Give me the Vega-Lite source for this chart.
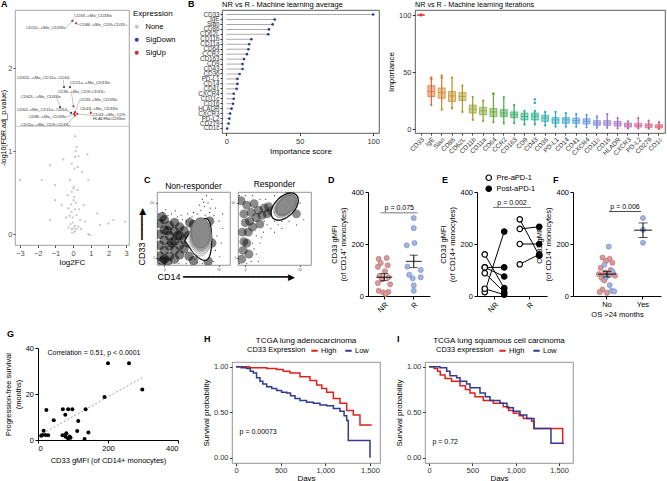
{
"$schema":"https://vega.github.io/schema/vega-lite/v6.json",
"autosize":"none",
"padding":{"left":15,"top":10,"right":652,"bottom":471},
"background":"white",
"config":{
 "font":"Liberation Sans",
 "view":{"stroke":null},
 "axis":{"grid":false,"labelFontSize":7.5,"titleFontSize":8,"titleFontWeight":"normal","tickSize":3,"labelPadding":1.5,"titlePadding":3,"domainColor":"#000","tickColor":"#000","labelColor":"#000","titleColor":"#000","labelFont":"Liberation Sans","titleFont":"Liberation Sans"},
 "title":{"fontSize":9,"fontWeight":"bold","anchor":"start","frame":"group","baseline":"bottom","color":"#000","font":"Liberation Sans"},
 "legend":{"labelFontSize":7.5,"titleFontSize":8,"titleFontWeight":"normal","labelFont":"Liberation Sans","titleFont":"Liberation Sans"}
},
"datasets":{
"volc":[
{"x":0.11,"y":1.18,"e":"None"},{"x":0.21,"y":1.05,"e":"None"},{"x":0.81,"y":0.96,"e":"None"},{"x":0.11,"y":0.93,"e":"None"},{"x":0.3,"y":0.94,"e":"None"},{"x":-1.3,"y":0.83,"e":"None"},{"x":-0.07,"y":0.85,"e":"None"},{"x":0.07,"y":0.79,"e":"None"},{"x":0.26,"y":0.81,"e":"None"},{"x":-3.0,"y":0.65,"e":"None"},{"x":-1.77,"y":0.65,"e":"None"},{"x":-0.17,"y":0.65,"e":"None"},{"x":0.86,"y":0.65,"e":"None"},{"x":0.02,"y":0.55,"e":"None"},{"x":-1.02,"y":0.59,"e":"None"},{"x":0.04,"y":0.57,"e":"None"},{"x":0.25,"y":0.53,"e":"None"},{"x":-0.08,"y":0.51,"e":"None"},{"x":-1.02,"y":0.41,"e":"None"},{"x":0.03,"y":0.41,"e":"None"},{"x":-0.64,"y":0.35,"e":"None"},{"x":-0.26,"y":0.31,"e":"None"},{"x":-0.08,"y":0.27,"e":"None"},{"x":0.11,"y":0.3,"e":"None"},{"x":1.37,"y":0.25,"e":"None"},{"x":-1.3,"y":0.17,"e":"None"},{"x":-0.2,"y":0.22,"e":"None"},{"x":-0.03,"y":0.2,"e":"None"},{"x":0.2,"y":0.23,"e":"None"},{"x":0.4,"y":0.17,"e":"None"},{"x":0.68,"y":0.15,"e":"None"},{"x":2.28,"y":0.17,"e":"None"},{"x":2.94,"y":0.15,"e":"None"},{"x":2.0,"y":0.13,"e":"None"},{"x":1.53,"y":0.11,"e":"None"},{"x":-0.26,"y":0.08,"e":"None"},{"x":-0.08,"y":0.06,"e":"None"},{"x":0.03,"y":0.07,"e":"None"},{"x":0.18,"y":0.06,"e":"None"},{"x":0.45,"y":0.06,"e":"None"},{"x":0.86,"y":0.0,"e":"None"},{"x":0.95,"y":-0.01,"e":"None"},{"x":-0.15,"y":0.12,"e":"None"},{"x":0.0,"y":0.14,"e":"None"},{"x":0.1,"y":0.1,"e":"None"},{"x":-0.1,"y":0.36,"e":"None"},{"x":0.05,"y":0.45,"e":"None"},{"x":0.15,"y":0.38,"e":"None"},{"x":-0.3,"y":0.47,"e":"None"},{"x":0.35,"y":0.3,"e":"None"},{"x":-0.05,"y":0.02,"e":"None"},{"x":0.1,"y":0.03,"e":"None"},{"x":0.3,"y":0.09,"e":"None"},{"x":-0.4,"y":0.2,"e":"None"},{"x":0.6,"y":0.35,"e":"None"},{"x":0.5,"y":0.75,"e":"None"},{"x":-0.55,"y":0.9,"e":"None"},{"x":0.15,"y":1.0,"e":"None"},
{"x":-0.04,"y":2.57,"e":"SigDown"},{"x":-0.51,"y":1.77,"e":"SigDown"},{"x":-0.17,"y":1.77,"e":"SigDown"},{"x":-0.73,"y":1.53,"e":"SigDown"},{"x":-0.11,"y":1.46,"e":"SigDown"},
{"x":0.17,"y":2.54,"e":"SigUp"},{"x":0.02,"y":1.54,"e":"SigUp"},{"x":0.11,"y":1.47,"e":"SigUp"},{"x":1.0,"y":1.46,"e":"SigUp"},{"x":0.06,"y":1.45,"e":"SigUp"},{"x":0.24,"y":1.45,"e":"SigUp"},{"x":0.11,"y":1.43,"e":"SigUp"}
],
"volcLab":[
{"lab":"CD33--cMo_CD33lo","tx":0.06,"ty":2.63,"ex":0.06,"ey":2.61,"px":-0.02,"py":2.58},
{"lab":"CD11c--cMo_CD33lo","tx":-2.66,"ty":2.48,"ex":-0.36,"ey":2.49,"px":-0.05,"py":2.57},
{"lab":"CD86--cMo_CD9+CD33+","tx":0.36,"ty":2.52,"ex":0.36,"ey":2.52,"px":0.17,"py":2.54},
{"lab":"CD62L--cMo_CD11a--CD64-","tx":-3.18,"ty":1.88,"ex":-0.55,"ey":1.86,"px":-0.51,"py":1.77},
{"lab":"CD11a--cMo_CD33lo","tx":-0.17,"ty":1.82,"ex":-0.17,"ey":1.8,"px":-0.17,"py":1.77},
{"lab":"CD36--cMo_CD9+CD33+","tx":-0.88,"ty":1.71,"ex":-0.08,"ey":1.69,"px":0.02,"py":1.54},
{"lab":"CD62L--cMo_CD33lo","tx":-2.96,"ty":1.65,"ex":-0.92,"ey":1.64,"px":-0.73,"py":1.53},
{"lab":"CD33--cMo_CD33hi","tx":0.36,"ty":1.62,"ex":0.36,"ey":1.61,"px":0.11,"py":1.47},
{"lab":"CD64--cMo_CD11a--CD64-","tx":-3.18,"ty":1.5,"ex":-0.36,"ey":1.49,"px":-0.11,"py":1.46},
{"lab":"CD43--cMo_CD33lo","tx":0.4,"ty":1.51,"ex":1.0,"ey":1.5,"px":1.0,"py":1.46},
{"lab":"CD86--cMo_CD33hi","tx":-2.52,"ty":1.41,"ex":-0.36,"ey":1.41,"px":0.06,"py":1.45},
{"lab":"CD43--cMo_CD9-","tx":1.11,"ty":1.43,"ex":1.11,"ey":1.43,"px":0.24,"py":1.45},
{"lab":"HLADRloCD33int","tx":1.11,"ty":1.39},
{"lab":"CD11a--cMo_CD9+CD33+","tx":-2.96,"ty":1.31,"ex":-0.36,"ey":1.32,"px":0.11,"py":1.43}
],
"lolli":[
{"m":"CD33","v":100},{"m":"IgE","v":33},{"m":"Slan","v":31.5},{"m":"CD86","v":29},{"m":"CD62L","v":28.5},{"m":"CD11b","v":17},{"m":"CD11a","v":15.5},{"m":"CD64","v":15},{"m":"CCR2","v":14},{"m":"CD163","v":12},{"m":"CD9","v":11},{"m":"CD43","v":11},{"m":"CD36","v":9},{"m":"PD-L1","v":7.5},{"m":"CD14","v":7.5},{"m":"CD41","v":7},{"m":"CXCR4","v":5},{"m":"CD11c","v":5},{"m":"CD16","v":4.5},{"m":"HLADR","v":3.5},{"m":"CXCR3","v":2.5},{"m":"PD-L2","v":2},{"m":"CD279","v":1.5},{"m":"CD1c","v":0.5}
],
"box":[
{"m":"CD33","lo":99.5,"q1":99.7,"med":100,"q3":100.3,"hi":100.5},
{"m":"IgE","lo":21,"q1":28.5,"med":33,"q3":38,"hi":45},
{"m":"Slan","lo":17,"q1":27,"med":32,"q3":36,"hi":47},
{"m":"CD86","lo":18,"q1":24,"med":29,"q3":33,"hi":45},
{"m":"CD62L","lo":15,"q1":25,"med":28.5,"q3":32,"hi":38},
{"m":"CD11b","lo":8,"q1":14,"med":17.5,"q3":21,"hi":28},
{"m":"CD11a","lo":7,"q1":12.5,"med":16,"q3":19,"hi":25},
{"m":"CD64","lo":6,"q1":11,"med":15,"q3":18,"hi":31},
{"m":"CCR2","lo":5,"q1":11,"med":14,"q3":17,"hi":28},
{"m":"CD163","lo":5,"q1":10,"med":12.5,"q3":15,"hi":21},
{"m":"CD9","lo":4,"q1":8,"med":11,"q3":14,"hi":16},
{"m":"CD43","lo":4,"q1":8,"med":11.4,"q3":14,"hi":16},
{"m":"CD36","lo":3,"q1":6.7,"med":9.6,"q3":12,"hi":15},
{"m":"PD-L1","lo":2,"q1":5,"med":8,"q3":10,"hi":15},
{"m":"CD14","lo":2,"q1":5,"med":8,"q3":10,"hi":14},
{"m":"CD41","lo":2,"q1":5,"med":7.5,"q3":9.5,"hi":13},
{"m":"CXCR4","lo":1.5,"q1":4.4,"med":6.7,"q3":9,"hi":12.5},
{"m":"CD11c","lo":1,"q1":3.2,"med":5.2,"q3":7.3,"hi":11},
{"m":"CD16","lo":1,"q1":3.2,"med":5.2,"q3":7.3,"hi":13},
{"m":"HLADR","lo":0.5,"q1":2.6,"med":4.7,"q3":6.7,"hi":9.6},
{"m":"CXCR3","lo":0.5,"q1":1.7,"med":3.5,"q3":5.2,"hi":6.7},
{"m":"PD-L2","lo":0.5,"q1":1.7,"med":3.2,"q3":5,"hi":9.6},
{"m":"CD279","lo":0.3,"q1":1.2,"med":2.9,"q3":4.5,"hi":7.3},
{"m":"CD1c","lo":0,"q1":0.9,"med":2.3,"q3":3.8,"hi":6}
],
"boxOut":[{"m":"CD43","val":26},{"m":"CD43","val":23},{"m":"IgE","val":44},{"m":"Slan","val":45},{"m":"CD64","val":31}],
"c1d":[{"x":0.04,"y":0.12},{"x":0.04,"y":0.27},{"x":0.04,"y":0.42},{"x":0.04,"y":0.57},{"x":0.1,"y":0.08},{"x":0.1,"y":0.2},{"x":0.1,"y":0.34},{"x":0.1,"y":0.48},{"x":0.1,"y":0.62},{"x":0.17,"y":0.12},{"x":0.17,"y":0.26},{"x":0.17,"y":0.4},{"x":0.17,"y":0.54},{"x":0.24,"y":0.08},{"x":0.24,"y":0.2},{"x":0.24,"y":0.33},{"x":0.24,"y":0.46},{"x":0.24,"y":0.58},{"x":0.31,"y":0.14},{"x":0.31,"y":0.27},{"x":0.31,"y":0.4},{"x":0.31,"y":0.52},{"x":0.37,"y":0.22},{"x":0.37,"y":0.35},{"x":0.37,"y":0.47},{"x":0.43,"y":0.3},{"x":0.43,"y":0.4},{"x":0.44,"y":0.12},{"x":0.5,"y":0.06},{"x":0.5,"y":0.55},{"x":0.45,"y":0.58},{"x":0.7,"y":0.05},{"x":0.75,"y":0.3},{"x":0.72,"y":0.6},{"x":0.07,"y":0.05},{"x":0.14,"y":0.05},{"x":0.2,"y":0.3},{"x":0.28,"y":0.4},{"x":0.14,"y":0.47},{"x":0.07,"y":0.66}],
"c1s":[{"x":0.02,"y":0.7},{"x":0.08,"y":0.72},{"x":0.15,"y":0.68},{"x":0.2,"y":0.7},{"x":0.28,"y":0.66},{"x":0.35,"y":0.62},{"x":0.4,"y":0.6},{"x":0.55,"y":0.7},{"x":0.6,"y":0.75},{"x":0.65,"y":0.8},{"x":0.7,"y":0.85},{"x":0.62,"y":0.9},{"x":0.72,"y":0.72},{"x":0.78,"y":0.68},{"x":0.75,"y":0.9},{"x":0.58,"y":0.82},{"x":0.68,"y":0.95},{"x":0.8,"y":0.78},{"x":0.85,"y":0.6},{"x":0.82,"y":0.4},{"x":0.8,"y":0.2},{"x":0.78,"y":0.05},{"x":0.62,"y":0.02},{"x":0.55,"y":0.03},{"x":0.4,"y":0.02},{"x":0.3,"y":0.02},{"x":0.2,"y":0.02},{"x":0.03,"y":0.02},{"x":0.45,"y":0.65},{"x":0.5,"y":0.72},{"x":0.66,"y":0.68},{"x":0.88,"y":0.3},{"x":0.9,"y":0.5},{"x":0.7,"y":0.62},{"x":0.52,"y":0.6},{"x":0.33,"y":0.68},{"x":0.12,"y":0.76},{"x":0.25,"y":0.74},{"x":0.42,"y":0.7},{"x":0.48,"y":0.66},{"x":0.56,"y":0.64},{"x":0.64,"y":0.86},{"x":0.73,"y":0.78},{"x":0.52,"y":0.08},{"x":0.58,"y":0.12},{"x":0.86,"y":0.12},{"x":0.9,"y":0.7},{"x":0.47,"y":0.2}],
"c1o":[{"x":0.57,"y":0.35}],
"c1i":[{"x":0.59,"y":0.37,"l":2},{"x":0.6,"y":0.39,"l":3},{"x":0.6,"y":0.41,"l":4},{"x":0.6,"y":0.42,"l":5},{"x":0.6,"y":0.43,"l":6},{"x":0.6,"y":0.44,"l":7}],
"c2d":[{"x":0.05,"y":0.08},{"x":0.07,"y":0.2},{"x":0.08,"y":0.32},{"x":0.06,"y":0.45},{"x":0.1,"y":0.58},{"x":0.08,"y":0.7},{"x":0.12,"y":0.82},{"x":0.14,"y":0.45},{"x":0.16,"y":0.6},{"x":0.18,"y":0.72},{"x":0.2,"y":0.52},{"x":0.22,"y":0.84},{"x":0.25,"y":0.65},{"x":0.28,"y":0.75},{"x":0.3,"y":0.56},{"x":0.33,"y":0.68},{"x":0.36,"y":0.78},{"x":0.4,"y":0.7},{"x":0.42,"y":0.8},{"x":0.46,"y":0.74},{"x":0.12,"y":0.3},{"x":0.15,"y":0.15},{"x":0.04,"y":0.88},{"x":0.52,"y":0.7},{"x":0.7,"y":0.95},{"x":0.8,"y":0.7}],
"c2s":[{"x":0.02,"y":0.95},{"x":0.1,"y":0.95},{"x":0.2,"y":0.95},{"x":0.3,"y":0.9},{"x":0.25,"y":0.4},{"x":0.35,"y":0.45},{"x":0.4,"y":0.55},{"x":0.5,"y":0.6},{"x":0.55,"y":0.55},{"x":0.6,"y":0.6},{"x":0.7,"y":0.6},{"x":0.2,"y":0.3},{"x":0.3,"y":0.3},{"x":0.18,"y":0.05},{"x":0.25,"y":0.15},{"x":0.28,"y":0.05},{"x":0.02,"y":0.02},{"x":0.12,"y":0.02},{"x":0.5,"y":0.45},{"x":0.45,"y":0.5},{"x":0.6,"y":0.5},{"x":0.38,"y":0.9},{"x":0.5,"y":0.95},{"x":0.55,"y":0.85},{"x":0.32,"y":0.38},{"x":0.22,"y":0.22},{"x":0.36,"y":0.6},{"x":0.62,"y":0.66},{"x":0.8,"y":0.55},{"x":0.85,"y":0.85},{"x":0.9,"y":0.62}],
"c2o":[{"x":0.64,"y":0.8}],
"c2i":[{"x":0.65,"y":0.81,"l":2},{"x":0.65,"y":0.81,"l":3},{"x":0.66,"y":0.82,"l":4},{"x":0.66,"y":0.82,"l":5},{"x":0.66,"y":0.82,"l":6},{"x":0.66,"y":0.82,"l":7}],
"dpts":[
{"g":"NR","j":-0.8,"v":143},{"g":"NR","j":0.35,"v":146},{"g":"NR","j":-0.5,"v":127},{"g":"NR","j":0.5,"v":118},{"g":"NR","j":-0.9,"v":112},{"g":"NR","j":0.1,"v":95},{"g":"NR","j":-0.65,"v":78},{"g":"NR","j":0.6,"v":72},{"g":"NR","j":-0.3,"v":64},{"g":"NR","j":0.85,"v":45},{"g":"NR","j":-0.9,"v":50},{"g":"NR","j":-0.8,"v":20},{"g":"NR","j":-0.15,"v":14},{"g":"NR","j":0.6,"v":16},{"g":"NR","j":0.2,"v":8},
{"g":"R","j":0,"v":300},{"g":"R","j":0,"v":261},{"g":"R","j":-1,"v":195},{"g":"R","j":0.1,"v":204},{"g":"R","j":-0.9,"v":113},{"g":"R","j":1,"v":100},{"g":"R","j":-0.65,"v":82},{"g":"R","j":1,"v":72},{"g":"R","j":-0.15,"v":68},{"g":"R","j":0,"v":41},{"g":"R","j":0,"v":20}
],
"dsum":[{"g":"NR","mean":72,"lo":59,"hi":86},{"g":"R","mean":133,"lo":109,"hi":157}],
"epts":[
{"p":"p1","g":"NR","t":"Pre-aPD-1","v":15},{"p":"p1","g":"NR","t":"Post-aPD-1","v":248},
{"p":"p2","g":"NR","t":"Pre-aPD-1","v":160},{"p":"p2","g":"NR","t":"Post-aPD-1","v":30},
{"p":"p3","g":"NR","t":"Pre-aPD-1","v":110},{"p":"p3","g":"NR","t":"Post-aPD-1","v":110},
{"p":"p4","g":"NR","t":"Pre-aPD-1","v":110},{"p":"p4","g":"NR","t":"Post-aPD-1","v":75},
{"p":"p5","g":"NR","t":"Pre-aPD-1","v":88},{"p":"p5","g":"NR","t":"Post-aPD-1","v":15},
{"p":"p6","g":"NR","t":"Pre-aPD-1","v":28},{"p":"p6","g":"NR","t":"Post-aPD-1","v":5},
{"p":"p7","g":"R","t":"Pre-aPD-1","v":295},{"p":"p7","g":"R","t":"Post-aPD-1","v":155},
{"p":"p8","g":"R","t":"Pre-aPD-1","v":258},{"p":"p8","g":"R","t":"Post-aPD-1","v":266},
{"p":"p9","g":"R","t":"Pre-aPD-1","v":200},{"p":"p9","g":"R","t":"Post-aPD-1","v":200},
{"p":"p10","g":"R","t":"Pre-aPD-1","v":122},{"p":"p10","g":"R","t":"Post-aPD-1","v":160}
],
"fpts":[
{"g":"No","s":"NR","j":-0.5,"v":148},{"g":"No","s":"NR","j":0.3,"v":143},{"g":"No","s":"NR","j":-0.1,"v":135},{"g":"No","s":"NR","j":0.6,"v":128},{"g":"No","s":"NR","j":-0.7,"v":108},{"g":"No","s":"NR","j":0.4,"v":100},{"g":"No","s":"NR","j":-0.2,"v":90},{"g":"No","s":"NR","j":0.7,"v":86},{"g":"No","s":"NR","j":-0.9,"v":84},{"g":"No","s":"NR","j":0.1,"v":82},{"g":"No","s":"NR","j":-0.4,"v":80},{"g":"No","s":"NR","j":0.9,"v":78},{"g":"No","s":"NR","j":-0.6,"v":70},{"g":"No","s":"NR","j":-0.3,"v":60},{"g":"No","s":"NR","j":-0.5,"v":25},{"g":"No","s":"NR","j":-0.8,"v":15},{"g":"No","s":"NR","j":0.0,"v":12},
{"g":"No","s":"R","j":0.2,"v":190},{"g":"No","s":"R","j":-0.3,"v":120},{"g":"No","s":"R","j":0.6,"v":95},{"g":"No","s":"R","j":-0.1,"v":72},{"g":"No","s":"R","j":0.3,"v":42},{"g":"No","s":"R","j":0.5,"v":20},{"g":"No","s":"R","j":0.8,"v":18},
{"g":"Yes","s":"R","j":0,"v":300},{"g":"Yes","s":"R","j":0,"v":255},{"g":"Yes","s":"R","j":0,"v":205}
],
"fsum":[{"g":"No","mean":84,"lo":73,"hi":95},{"g":"Yes","mean":253,"lo":225,"hi":281}],
"gpts":[{"x":200,"y":33.4},{"x":260,"y":33.4},{"x":298,"y":22},{"x":190,"y":18.7},{"x":24,"y":13},{"x":71,"y":13.4},{"x":86,"y":13.4},{"x":98,"y":13.4},{"x":136,"y":13.4},{"x":78,"y":11},{"x":45,"y":8.6},{"x":115,"y":8.3},{"x":16,"y":4},{"x":112,"y":3.9},{"x":144,"y":3.3},{"x":81,"y":2.9},{"x":12,"y":2.2},{"x":21,"y":2.2},{"x":29,"y":2.1},{"x":70,"y":2.1},{"x":76,"y":2},{"x":79,"y":1.4},{"x":90,"y":1.5},{"x":93,"y":1},{"x":86,"y":0.7},{"x":133,"y":0.4},{"x":9,"y":1.9}],
"gline":[{"x":14,"y":2.9},{"x":300,"y":27.3}],
"kmH":[
{"grp":"High","d":0,"s":1.0},{"grp":"High","d":150,"s":0.99},{"grp":"High","d":343,"s":0.98},{"grp":"High","d":455,"s":0.97},{"grp":"High","d":530,"s":0.95},{"grp":"High","d":604,"s":0.93},{"grp":"High","d":716,"s":0.89},{"grp":"High","d":828,"s":0.85},{"grp":"High","d":903,"s":0.8},{"grp":"High","d":960,"s":0.76},{"grp":"High","d":1015,"s":0.72},{"grp":"High","d":1090,"s":0.65},{"grp":"High","d":1164,"s":0.6},{"grp":"High","d":1239,"s":0.52},{"grp":"High","d":1313,"s":0.47},{"grp":"High","d":1388,"s":0.36},{"grp":"High","d":1519,"s":0.36},
{"grp":"Low","d":0,"s":1.0},{"grp":"Low","d":60,"s":0.99},{"grp":"Low","d":119,"s":0.98},{"grp":"Low","d":160,"s":0.95},{"grp":"Low","d":194,"s":0.93},{"grp":"Low","d":230,"s":0.88},{"grp":"Low","d":269,"s":0.84},{"grp":"Low","d":300,"s":0.81},{"grp":"Low","d":343,"s":0.78},{"grp":"Low","d":400,"s":0.76},{"grp":"Low","d":455,"s":0.74},{"grp":"Low","d":510,"s":0.72},{"grp":"Low","d":567,"s":0.71},{"grp":"Low","d":610,"s":0.68},{"grp":"Low","d":660,"s":0.65},{"grp":"Low","d":716,"s":0.63},{"grp":"Low","d":790,"s":0.61},{"grp":"Low","d":866,"s":0.6},{"grp":"Low","d":940,"s":0.58},{"grp":"Low","d":1015,"s":0.57},{"grp":"Low","d":1090,"s":0.54},{"grp":"Low","d":1164,"s":0.51},{"grp":"Low","d":1210,"s":0.46},{"grp":"Low","d":1239,"s":0.41},{"grp":"Low","d":1257,"s":0.19},{"grp":"Low","d":1500,"s":0.0}
],
"kmI":[
{"grp":"High","d":0,"s":1.0},{"grp":"High","d":60,"s":0.98},{"grp":"High","d":100,"s":0.95},{"grp":"High","d":130,"s":0.91},{"grp":"High","d":185,"s":0.87},{"grp":"High","d":260,"s":0.84},{"grp":"High","d":358,"s":0.79},{"grp":"High","d":420,"s":0.75},{"grp":"High","d":473,"s":0.71},{"grp":"High","d":530,"s":0.67},{"grp":"High","d":627,"s":0.63},{"grp":"High","d":742,"s":0.6},{"grp":"High","d":857,"s":0.56},{"grp":"High","d":920,"s":0.52},{"grp":"High","d":973,"s":0.49},{"grp":"High","d":1040,"s":0.46},{"grp":"High","d":1088,"s":0.43},{"grp":"High","d":1184,"s":0.4},{"grp":"High","d":1211,"s":0.32},{"grp":"High","d":1542,"s":0.16},{"grp":"High","d":1555,"s":0.16},
{"grp":"Low","d":0,"s":1.0},{"grp":"Low","d":127,"s":0.99},{"grp":"Low","d":204,"s":0.95},{"grp":"Low","d":242,"s":0.9},{"grp":"Low","d":319,"s":0.88},{"grp":"Low","d":358,"s":0.84},{"grp":"Low","d":434,"s":0.81},{"grp":"Low","d":473,"s":0.77},{"grp":"Low","d":588,"s":0.71},{"grp":"Low","d":650,"s":0.67},{"grp":"Low","d":704,"s":0.63},{"grp":"Low","d":819,"s":0.6},{"grp":"Low","d":900,"s":0.55},{"grp":"Low","d":973,"s":0.51},{"grp":"Low","d":1050,"s":0.47},{"grp":"Low","d":1127,"s":0.43},{"grp":"Low","d":1211,"s":0.32},{"grp":"Low","d":1407,"s":0.16},{"grp":"Low","d":1550,"s":0.16}
]
},
"vconcat":[
{"hconcat":[
 {"width":114,"height":235,
  "view":{"stroke":"#8a8a8a","strokeWidth":0.8},
  "title":{"text":"A","dx":-14,"offset":1},
  "layer":[
   {"data":{"name":"volc"},"mark":{"type":"point","filled":true,"size":5,"opacity":1},
    "encoding":{
     "x":{"field":"x","type":"quantitative","scale":{"domain":[-3.28,3.16],"nice":false,"zero":false},"axis":{"tickCount":7,"tickMinStep":1,"format":"d","title":"log2FC","labelOverlap":false,"labelFlush":false,"labelBound":false,"labelColor":"#4d4d4d","tickColor":"#4d4d4d","domain":false,"tickSize":2.5,"labelFontSize":7.5,"titlePadding":2}},
     "y":{"field":"y","type":"quantitative","scale":{"domain":[-0.13,2.7],"nice":false,"zero":false},"axis":{"values":[0,1,2],"format":"d","title":"-log10(FDR.adj_p.value)","titleFontSize":7,"labelColor":"#4d4d4d","tickColor":"#4d4d4d","domain":false,"tickSize":2,"labelPadding":1,"titlePadding":1,"labelFontSize":7.5}},
     "color":{"field":"e","type":"nominal","scale":{"domain":["None","SigDown","SigUp"],"range":["#c4c4c4","#34429a","#d62728"]},"legend":{"title":"Expression","orient":"right","offset":4,"symbolSize":16,"symbolType":"circle","labelFontSize":7.5,"titleFontSize":8,"rowPadding":4,"titlePadding":5,"labelOffset":5,"padding":0}}}},
   {"data":{"values":[{"t":1.3}]},"mark":{"type":"rule","color":"#a0a0a0","strokeWidth":0.6},"encoding":{"y":{"field":"t","type":"quantitative"}}},
   {"data":{"name":"volcLab"},"transform":[{"filter":"isValid(datum.ex)"}],"mark":{"type":"rule","color":"#666","strokeWidth":0.4},"encoding":{"x":{"field":"ex","type":"quantitative"},"y":{"field":"ey","type":"quantitative"},"x2":{"field":"px"},"y2":{"field":"py"}}},
   {"data":{"name":"volcLab"},"mark":{"type":"text","fontSize":4.2,"align":"left","baseline":"middle","color":"#333"},"encoding":{"x":{"field":"tx","type":"quantitative"},"y":{"field":"ty","type":"quantitative"},"text":{"field":"lab"}}}
  ]},
 {"vconcat":[
  {"hconcat":[
   {"width":46,"height":10,"view":{"stroke":null},"title":{"text":"B","dx":48,"offset":1},"data":{"values":[{"a":1}]},"mark":{"type":"point","opacity":0},"encoding":{}},
   {"width":157,"height":123,
    "view":{"stroke":"#333","strokeWidth":0.8},
    "title":{"text":"NR vs R - Machine learning average","fontSize":7.5,"fontWeight":"normal","offset":2},
    "data":{"name":"lolli"},
    "encoding":{"y":{"field":"m","type":"nominal","sort":null,"scale":{"type":"band","paddingInner":0,"paddingOuter":0.41},"axis":{"title":null,"labelFontSize":6.3,"labelColor":"#333","tickColor":"#333","tickSize":2,"domain":false,"labelOverlap":false,"labelPadding":1}}},
    "layer":[
     {"mark":{"type":"bar","color":"#aaaaaa","height":1},"encoding":{"x":{"field":"v","type":"quantitative","scale":{"domain":[-3,104],"nice":false},"axis":{"values":[0,25,50,75,100],"title":"Importance score","labelFontSize":7.5,"labelColor":"#333","tickColor":"#333","domain":false,"tickSize":2.5}}}},
     {"mark":{"type":"point","filled":true,"size":7,"color":"#2b3990","opacity":1},"encoding":{"x":{"field":"v","type":"quantitative"}}}
    ]},
   {"width":250,"height":123,
    "view":{"stroke":"#333","strokeWidth":0.8},
    "title":{"text":"NR vs R - Machine learning iterations","fontSize":7.2,"fontWeight":"normal","offset":2},
    "data":{"name":"box"},
    "encoding":{
     "x":{"field":"m","type":"nominal","sort":null,"scale":{"type":"band","domain":["CD33","IgE","Slan","CD86","CD62L","CD11b","CD11a","CD64","CCR2","CD163","CD9","CD43","CD36","PD-L1","CD14","CD41","CXCR4","CD11c","CD16","HLADR","CXCR3","PD-L2","CD279","CD1c"],"paddingInner":0,"paddingOuter":0.08},"axis":{"title":null,"labelAngle":-45,"labelFontSize":6.5,"labelColor":"#333","tickColor":"#333","tickSize":2,"domain":false,"labelPadding":1}},
     "color":{"field":"m","type":"nominal","scale":{"domain":["CD33","IgE","Slan","CD86","CD62L","CD11b","CD11a","CD64","CCR2","CD163","CD9","CD43","CD36","PD-L1","CD14","CD41","CXCR4","CD11c","CD16","HLADR","CXCR3","PD-L2","CD279","CD1c"],"range":["#e0393e","#d9692f","#cf8124","#c08b22","#ad9527","#979d2a","#7fa32e","#63a735","#44aa44","#2eab5e","#22ac78","#1fac90","#22aaa6","#2ba6bb","#38a0cc","#4898d8","#5e8cdc","#787fda","#9173d1","#a769c3","#ba61b0","#c95c9c","#d45986","#db5970"]},"legend":null}},
    "layer":[
     {"mark":{"type":"rule","strokeWidth":1.2},"encoding":{"y":{"field":"lo","type":"quantitative","scale":{"domain":[-3.5,104.4],"nice":false},"axis":{"values":[0,25,50,75,100],"title":"Importance","labelFontSize":7.5,"titleFontSize":8,"labelColor":"#333","tickColor":"#333","domain":false,"tickSize":2.5}},"y2":{"field":"hi"}}},
     {"mark":{"type":"bar","width":7,"fillOpacity":0.45,"strokeWidth":0.7},"encoding":{"y":{"field":"q1","type":"quantitative"},"y2":{"field":"q3"},"stroke":{"field":"m","type":"nominal","scale":{"domain":["CD33","IgE","Slan","CD86","CD62L","CD11b","CD11a","CD64","CCR2","CD163","CD9","CD43","CD36","PD-L1","CD14","CD41","CXCR4","CD11c","CD16","HLADR","CXCR3","PD-L2","CD279","CD1c"],"range":["#e0393e","#d9692f","#cf8124","#c08b22","#ad9527","#979d2a","#7fa32e","#63a735","#44aa44","#2eab5e","#22ac78","#1fac90","#22aaa6","#2ba6bb","#38a0cc","#4898d8","#5e8cdc","#787fda","#9173d1","#a769c3","#ba61b0","#c95c9c","#d45986","#db5970"]},"legend":null}}},
     {"mark":{"type":"tick","thickness":1,"size":7,"orient":"horizontal"},"encoding":{"y":{"field":"med","type":"quantitative"}}},
     {"transform":[{"fold":["lo","hi"],"as":["k","val"]}],"mark":{"type":"point","filled":true,"size":5,"opacity":1},"encoding":{"y":{"field":"val","type":"quantitative"}}},
     {"data":{"name":"boxOut"},"mark":{"type":"point","filled":true,"size":6,"opacity":1},"encoding":{"y":{"field":"val","type":"quantitative"}}}
    ]}
  ],"spacing":36,"bounds":"flush","resolve":{"scale":{"color":"independent","stroke":"independent","fill":"independent","size":"independent"},"legend":{"color":"independent","stroke":"independent","fill":"independent","size":"independent"}}},
  {"hconcat":[
   {"width":17,"height":10,"view":{"stroke":null},"title":{"text":"C","dx":4,"offset":7},"data":{"values":[{"a":1}]},"mark":{"type":"point","opacity":0},"encoding":{}},
   {"width":73,"height":73,
    "view":{"stroke":"#7a7a7a","strokeWidth":0.8},
    "title":{"text":"Non-responder","anchor":"middle","fontSize":8.5,"fontWeight":"normal","offset":2},
    "layer":[
     {"data":{"name":"c1d"},"mark":{"type":"point","filled":true,"size":90,"color":"#000","opacity":0.5,"clip":true},"encoding":{
      "x":{"field":"x","type":"quantitative","scale":{"domain":[0,1],"nice":false},"axis":{"values":[0.1,0.35,0.6,0.85],"labelExpr":"datum.value < 0.2 ? '0' : datum.value < 0.5 ? '10³' : datum.value < 0.7 ? '10⁴' : '10⁵'","labelFontSize":3.5,"tickSize":1.5,"labelPadding":0.5,"domain":false,"tickColor":"#555","labelColor":"#555","title":"CD14 ━━━━━━━━━━━━━━━━━━━━━▶","titleAnchor":"start","titleFontSize":9,"titlePadding":2}},
      "y":{"field":"y","type":"quantitative","scale":{"domain":[0,1],"nice":false},"axis":{"values":[0.1,0.35,0.6,0.85],"labelExpr":"datum.value < 0.2 ? '0' : datum.value < 0.5 ? '10³' : datum.value < 0.7 ? '10⁴' : '10⁵'","labelFontSize":3.5,"tickSize":1.5,"labelPadding":0.5,"domain":false,"tickColor":"#555","labelColor":"#555","title":"CD33 ━━━━━▶","titleAnchor":"start","titleFontSize":9,"titlePadding":3}}}},
     {"data":{"name":"c1s"},"mark":{"type":"point","filled":true,"size":1.5,"color":"#000","opacity":0.8,"clip":true},"encoding":{"x":{"field":"x","type":"quantitative"},"y":{"field":"y","type":"quantitative"}}},
     {"data":{"name":"c1o"},"mark":{"type":"point","shape":"M-0.65,0.05C-0.4,-0.4,-0.05,-1,0.3,-1C0.58,-1,0.62,-0.5,0.62,0C0.62,0.5,0.55,1,0.3,1C-0.05,1,-0.4,0.45,-0.65,0.05Z","size":1764,"filled":true,"fill":"#ffffff","fillOpacity":1,"stroke":"#111","strokeWidth":1.3,"opacity":1},"encoding":{"x":{"field":"x","type":"quantitative"},"y":{"field":"y","type":"quantitative"}}},
     {"data":{"name":"c1i"},"mark":{"type":"point","shape":"M0,-1A0.62,1,0,1,1,0,1A0.62,1,0,1,1,0,-1Z","filled":true,"stroke":"#555","strokeWidth":0.4,"opacity":1},"encoding":{"x":{"field":"x","type":"quantitative"},"y":{"field":"y","type":"quantitative"},
      "size":{"field":"l","type":"ordinal","scale":{"domain":[2,3,4,5,6,7],"range":[1296,900,529,289,121,36]},"legend":null},
      "fill":{"field":"l","type":"ordinal","scale":{"domain":[2,3,4,5,6,7],"range":["#f4f4f4","#e6e6e6","#d4d4d4","#bdbdbd","#a3a3a3","#8a8a8a"]},"legend":null}}}
    ]},
   {"width":8,"height":10,"view":{"stroke":null},"data":{"values":[{"a":1}]},"mark":{"type":"point","opacity":0},"encoding":{}},
   {"width":73,"height":73,
    "view":{"stroke":"#7a7a7a","strokeWidth":0.8},
    "title":{"text":"Responder","anchor":"middle","fontSize":8.5,"fontWeight":"normal","offset":2},
    "layer":[
     {"data":{"name":"c2d"},"mark":{"type":"point","filled":true,"size":80,"color":"#000","opacity":0.45,"clip":true},"encoding":{
      "x":{"field":"x","type":"quantitative","scale":{"domain":[0,1],"nice":false},"axis":{"values":[0.1,0.35,0.6,0.85],"labelExpr":"datum.value < 0.2 ? '0' : datum.value < 0.5 ? '10³' : datum.value < 0.7 ? '10⁴' : '10⁵'","labelFontSize":3.5,"tickSize":1.5,"labelPadding":0.5,"domain":false,"tickColor":"#555","labelColor":"#555","title":null}},
      "y":{"field":"y","type":"quantitative","scale":{"domain":[0,1],"nice":false},"axis":{"values":[0.1,0.35,0.6,0.85],"labelExpr":"datum.value < 0.2 ? '0' : datum.value < 0.5 ? '10³' : datum.value < 0.7 ? '10⁴' : '10⁵'","labelFontSize":3.5,"tickSize":1.5,"labelPadding":0.5,"domain":false,"tickColor":"#555","labelColor":"#555","title":null}}}},
     {"data":{"name":"c2s"},"mark":{"type":"point","filled":true,"size":1.5,"color":"#000","opacity":0.8,"clip":true},"encoding":{"x":{"field":"x","type":"quantitative"},"y":{"field":"y","type":"quantitative"}}},
     {"data":{"name":"c2o"},"mark":{"type":"point","shape":"M0,-1A0.6,1,0,1,1,0,1A0.6,1,0,1,1,0,-1Z","size":1089,"angle":45,"filled":true,"fill":"#ffffff","fillOpacity":1,"stroke":"#111","strokeWidth":1.3,"opacity":1},"encoding":{"x":{"field":"x","type":"quantitative"},"y":{"field":"y","type":"quantitative"}}},
     {"data":{"name":"c2i"},"mark":{"type":"point","shape":"M0,-1A0.6,1,0,1,1,0,1A0.6,1,0,1,1,0,-1Z","angle":45,"filled":true,"stroke":"#555","strokeWidth":0.4,"opacity":1},"encoding":{"x":{"field":"x","type":"quantitative"},"y":{"field":"y","type":"quantitative"},
      "size":{"field":"l","type":"ordinal","scale":{"domain":[2,3,4,5,6,7],"range":[800,560,360,200,90,25]},"legend":null},
      "fill":{"field":"l","type":"ordinal","scale":{"domain":[2,3,4,5,6,7],"range":["#f4f4f4","#e6e6e6","#d4d4d4","#bdbdbd","#a3a3a3","#8a8a8a"]},"legend":null}}}
    ]},
   {"width":57,"height":10,"view":{"stroke":null},"title":{"text":"D","dx":17,"offset":7},"data":{"values":[{"a":1}]},"mark":{"type":"point","opacity":0},"encoding":{}},
   {"width":62,"height":104,
    "layer":[
     {"data":{"name":"dpts"},"mark":{"type":"point","filled":true,"size":26,"strokeWidth":0.6,"opacity":1},"encoding":{
      "x":{"field":"g","type":"nominal","scale":{"type":"band","domain":["NR","R"],"paddingInner":0,"paddingOuter":0.05},"axis":{"title":null,"labelAngle":-45,"labelFontSize":7.5,"tickSize":3}},
      "xOffset":{"field":"j","type":"quantitative","scale":{"domain":[-1,1],"range":[7.75,21.75]}},
      "y":{"field":"v","type":"quantitative","scale":{"domain":[0,400],"nice":false},"axis":{"values":[0,100,200,300,400],"title":["CD33 gMFI","(of CD14⁺ monocytes)"],"titleFontSize":7.5,"titlePadding":3}},
      "fill":{"field":"g","type":"nominal","scale":{"domain":["NR","R"],"range":["#d99b99","#a3b4e0"]},"legend":null},
      "stroke":{"field":"g","type":"nominal","scale":{"domain":["NR","R"],"range":["#b06a68","#6f86c4"]},"legend":null}}},
     {"data":{"name":"dsum"},"mark":{"type":"tick","color":"#000","thickness":1.3,"size":16},"encoding":{"x":{"field":"g","type":"nominal"},"y":{"field":"mean","type":"quantitative"}}},
     {"data":{"name":"dsum"},"mark":{"type":"rule","color":"#000","strokeWidth":1},"encoding":{"x":{"field":"g","type":"nominal"},"y":{"field":"lo","type":"quantitative"},"y2":{"field":"hi"}}},
     {"data":{"name":"dsum"},"transform":[{"fold":["lo","hi"],"as":["k","val"]}],"mark":{"type":"tick","color":"#000","thickness":1,"size":8},"encoding":{"x":{"field":"g","type":"nominal"},"y":{"field":"val","type":"quantitative"}}},
     {"data":{"values":[{"a":"NR","y":320}]},"mark":{"type":"tick","color":"#000","thickness":0.8,"size":37,"xOffset":14.75},"encoding":{"x":{"field":"a","type":"nominal"},"y":{"field":"y","type":"quantitative"}}},
     {"data":{"values":[{"a":"NR","y":338,"t":"p = 0.075"}]},"mark":{"type":"text","fontSize":7,"dx":15},"encoding":{"x":{"field":"a","type":"nominal"},"y":{"field":"y","type":"quantitative"},"text":{"field":"t"}}}
    ]},
   {"width":47,"height":10,"view":{"stroke":null},"title":{"text":"E","dx":12,"offset":7},"data":{"values":[{"a":1}]},"mark":{"type":"point","opacity":0},"encoding":{}},
   {"width":70,"height":104,
    "layer":[
     {"data":{"name":"epts"},"mark":{"type":"line","color":"#000","strokeWidth":1},"encoding":{
      "x":{"field":"g","type":"nominal","scale":{"type":"band","domain":["NR","R"],"paddingInner":0,"paddingOuter":0},"axis":{"title":null,"labelAngle":-45,"labelFontSize":7.5,"tickSize":3}},
      "xOffset":{"field":"t","type":"nominal","scale":{"domain":["Pre-aPD-1","Post-aPD-1"],"paddingOuter":0.4,"paddingInner":0}},
      "y":{"field":"v","type":"quantitative","scale":{"domain":[0,400],"nice":false},"axis":{"values":[0,100,200,300,400],"title":["CD33 gMFI","(of CD14+ monocytes)"],"titleFontSize":7.5,"titlePadding":3}},
      "detail":{"field":"p","type":"nominal"}}},
     {"data":{"name":"epts"},"mark":{"type":"point","filled":true,"size":30,"stroke":"#000","strokeWidth":1.2,"opacity":1},"encoding":{
      "x":{"field":"g","type":"nominal"},
      "xOffset":{"field":"t","type":"nominal"},
      "y":{"field":"v","type":"quantitative"},
      "fill":{"field":"t","type":"nominal","scale":{"domain":["Pre-aPD-1","Post-aPD-1"],"range":["#ffffff","#000000"]},"legend":{"title":null,"orient":"none","legendX":8,"legendY":-18,"direction":"vertical","symbolStrokeColor":"#000","symbolStrokeWidth":1.2,"symbolSize":30,"labelFontSize":7.5,"rowPadding":0,"labelOffset":4,"padding":0}}}},
     {"data":{"values":[{"a":"NR","y":341}]},"mark":{"type":"tick","color":"#000","thickness":0.8,"size":38,"xOffset":17.5},"encoding":{"x":{"field":"a","type":"nominal"},"y":{"field":"y","type":"quantitative"}}},
     {"data":{"values":[{"a":"NR","y":358,"t":"p = 0.002"}]},"mark":{"type":"text","fontSize":7,"dx":17.5},"encoding":{"x":{"field":"a","type":"nominal"},"y":{"field":"y","type":"quantitative"},"text":{"field":"t"}}}
    ]},
   {"width":26,"height":10,"view":{"stroke":null},"title":{"text":"F","dx":6,"offset":7},"data":{"values":[{"a":1}]},"mark":{"type":"point","opacity":0},"encoding":{}},
   {"width":88,"height":104,
    "layer":[
     {"data":{"name":"fpts"},"mark":{"type":"point","filled":true,"size":26,"strokeWidth":0.6,"opacity":1},"encoding":{
      "x":{"field":"g","type":"nominal","scale":{"type":"band","domain":["No","Yes"],"paddingInner":0,"paddingOuter":0.222,"align":1},"axis":{"title":"OS >24 months","labelAngle":0,"labelFontSize":7.5,"titleFontSize":7.5,"tickSize":3,"titlePadding":2}},
      "xOffset":{"field":"j","type":"quantitative","scale":{"domain":[-1,1],"range":[9,27]}},
      "y":{"field":"v","type":"quantitative","scale":{"domain":[0,400],"nice":false},"axis":{"values":[0,100,200,300,400],"title":["CD33 gMFI","(of CD14⁺ monocytes)"],"titleFontSize":7.5,"titlePadding":3}},
      "fill":{"field":"s","type":"nominal","scale":{"domain":["NR","R"],"range":["#d99b99","#a3b4e0"]},"legend":null},
      "stroke":{"field":"s","type":"nominal","scale":{"domain":["NR","R"],"range":["#b06a68","#6f86c4"]},"legend":null}}},
     {"data":{"name":"fsum"},"mark":{"type":"tick","color":"#000","thickness":1.3,"size":18},"encoding":{"x":{"field":"g","type":"nominal"},"y":{"field":"mean","type":"quantitative"}}},
     {"data":{"name":"fsum"},"mark":{"type":"rule","color":"#000","strokeWidth":1},"encoding":{"x":{"field":"g","type":"nominal"},"y":{"field":"lo","type":"quantitative"},"y2":{"field":"hi"}}},
     {"data":{"name":"fsum"},"transform":[{"fold":["lo","hi"],"as":["k","val"]}],"mark":{"type":"tick","color":"#000","thickness":1,"size":9},"encoding":{"x":{"field":"g","type":"nominal"},"y":{"field":"val","type":"quantitative"}}},
     {"data":{"values":[{"a":"No","y":325}]},"mark":{"type":"tick","color":"#000","thickness":0.8,"size":32,"xOffset":18},"encoding":{"x":{"field":"a","type":"nominal"},"y":{"field":"y","type":"quantitative"}}},
     {"data":{"values":[{"a":"No","y":343,"t":"p = 0.006"}]},"mark":{"type":"text","fontSize":7,"dx":18},"encoding":{"x":{"field":"a","type":"nominal"},"y":{"field":"y","type":"quantitative"},"text":{"field":"t"}}}
    ]}
  ],"spacing":0,"bounds":"flush","resolve":{"scale":{"color":"independent","stroke":"independent","fill":"independent","size":"independent","xOffset":"independent"},"legend":{"color":"independent","stroke":"independent","fill":"independent","size":"independent"}}}
 ],"spacing":182,"bounds":"flush","resolve":{"scale":{"color":"independent","stroke":"independent","fill":"independent","size":"independent","xOffset":"independent"},"legend":{"color":"independent","stroke":"independent","fill":"independent","size":"independent"}}}
],"spacing":11,"bounds":"flush","resolve":{"scale":{"color":"independent","stroke":"independent","fill":"independent","size":"independent","xOffset":"independent"},"legend":{"color":"independent","stroke":"independent","fill":"independent","size":"independent"}}},
{"hconcat":[
 {"width":23,"height":10,"view":{"stroke":null},"data":{"values":[{"a":1}]},"mark":{"type":"point","opacity":0},"encoding":{}},
 {"width":140,"height":92,
  "title":{"text":"G","dx":-31,"offset":5},
  "layer":[
   {"data":{"name":"gline"},"mark":{"type":"line","color":"#888","strokeWidth":0.8,"strokeDash":[2,2]},"encoding":{
    "x":{"field":"x","type":"quantitative","scale":{"domain":[0,400],"nice":false},"axis":{"values":[0,100,200,300,400],"title":"CD33 gMFI (of CD14+ monocytes)","titleFontSize":7.5,"titlePadding":4}},
    "y":{"field":"y","type":"quantitative","scale":{"domain":[0,40],"nice":false},"axis":{"values":[0,10,20,30,40],"title":["Progression-free survival","(months)"],"titleFontSize":7.5,"titlePadding":3}}}},
   {"data":{"name":"gpts"},"mark":{"type":"point","filled":true,"size":16,"color":"#000","opacity":1},"encoding":{"x":{"field":"x","type":"quantitative"},"y":{"field":"y","type":"quantitative"}}},
   {"data":{"values":[{"x":160,"y":37.8,"t":"Correlation = 0.51, p < 0.0001"}]},"mark":{"type":"text","fontSize":7},"encoding":{"x":{"field":"x","type":"quantitative"},"y":{"field":"y","type":"quantitative"},"text":{"field":"t"}}}
  ]},
 {"vconcat":[
  {"width":10,"height":14,"view":{"stroke":null},"data":{"values":[{"a":1}]},"mark":{"type":"point","opacity":0},"encoding":{}},
  {"hconcat":[
   {"width":54,"height":10,"view":{"stroke":null},"title":{"text":"H","dx":26,"offset":18},"data":{"values":[{"a":1}]},"mark":{"type":"point","opacity":0},"encoding":{}},
   {"width":148,"height":101,
    "view":{"stroke":"#777","strokeWidth":0.8},
    "title":{"text":"TCGA lung adenocarcinoma","anchor":"middle","fontSize":8,"fontWeight":"normal","offset":1},
    "layer":[
     {"data":{"name":"kmH"},"mark":{"type":"line","interpolate":"step-after","strokeWidth":1.5},"encoding":{
      "x":{"field":"d","type":"quantitative","scale":{"domain":[-45,1612],"nice":false,"zero":false},"axis":{"values":[0,500,1000,1500],"title":"Days","labelColor":"#333","tickColor":"#333","domain":false,"tickSize":2.5,"labelPadding":1,"titlePadding":0}},
      "y":{"field":"s","type":"quantitative","scale":{"domain":[-0.058,1.052],"nice":false,"zero":false},"axis":{"values":[0,0.25,0.5,0.75,1],"format":".2f","title":"Survival probability","labelColor":"#333","tickColor":"#333","domain":false,"tickSize":2.5}},
      "color":{"field":"grp","type":"nominal","scale":{"domain":["High","Low"],"range":["#e0201b","#2e3b8e"]},"legend":{"title":"CD33 Expression","orient":"none","legendX":15,"legendY":-16,"direction":"horizontal","titleOrient":"left","symbolType":"stroke","symbolStrokeWidth":2,"symbolSize":40,"labelFontSize":7.5,"titleFontSize":7.5,"columnPadding":4,"labelOffset":2,"titlePadding":4,"padding":0}}}},
     {"data":{"values":[{"d":40,"s":0.28,"t":"p = 0.00073"}]},"mark":{"type":"text","align":"left","fontSize":7},"encoding":{"x":{"field":"d","type":"quantitative"},"y":{"field":"s","type":"quantitative"},"text":{"field":"t"}}}
    ]},
   {"width":45,"height":10,"view":{"stroke":null},"title":{"text":"I","dx":17,"offset":18},"data":{"values":[{"a":1}]},"mark":{"type":"point","opacity":0},"encoding":{}},
   {"width":148,"height":101,
    "view":{"stroke":"#777","strokeWidth":0.8},
    "title":{"text":"TCGA lung squamous cell carcinoma","anchor":"middle","fontSize":8,"fontWeight":"normal","offset":1},
    "layer":[
     {"data":{"name":"kmI"},"mark":{"type":"line","interpolate":"step-after","strokeWidth":1.5},"encoding":{
      "x":{"field":"d","type":"quantitative","scale":{"domain":[-46,1661],"nice":false,"zero":false},"axis":{"values":[0,500,1000,1500],"title":"Days","labelColor":"#333","tickColor":"#333","domain":false,"tickSize":2.5,"labelPadding":1,"titlePadding":0}},
      "y":{"field":"s","type":"quantitative","scale":{"domain":[-0.058,1.052],"nice":false,"zero":false},"axis":{"values":[0,0.25,0.5,0.75,1],"format":".2f","title":"Survival probability","labelColor":"#333","tickColor":"#333","domain":false,"tickSize":2.5}},
      "color":{"field":"grp","type":"nominal","scale":{"domain":["High","Low"],"range":["#e0201b","#2e3b8e"]},"legend":{"title":"CD33 expression","orient":"none","legendX":11,"legendY":-16,"direction":"horizontal","titleOrient":"left","symbolType":"stroke","symbolStrokeWidth":2,"symbolSize":40,"labelFontSize":7.5,"titleFontSize":7.5,"columnPadding":4,"labelOffset":2,"titlePadding":4,"padding":0}}}},
     {"data":{"values":[{"d":40,"s":0.17,"t":"p = 0.72"}]},"mark":{"type":"text","align":"left","fontSize":7},"encoding":{"x":{"field":"d","type":"quantitative"},"y":{"field":"s","type":"quantitative"},"text":{"field":"t"}}}
    ]}
  ],"spacing":0,"bounds":"flush","resolve":{"scale":{"color":"independent"},"legend":{"color":"independent"}}}
 ],"spacing":0,"bounds":"flush","resolve":{"scale":{"color":"independent"},"legend":{"color":"independent"}}}
],"spacing":0,"bounds":"flush","resolve":{"scale":{"color":"independent"},"legend":{"color":"independent"}}}
],
"spacing":338,
"bounds":"flush",
"resolve":{"scale":{"color":"independent","stroke":"independent","fill":"independent","size":"independent","xOffset":"independent"},"legend":{"color":"independent","stroke":"independent","fill":"independent","size":"independent"}}
}
